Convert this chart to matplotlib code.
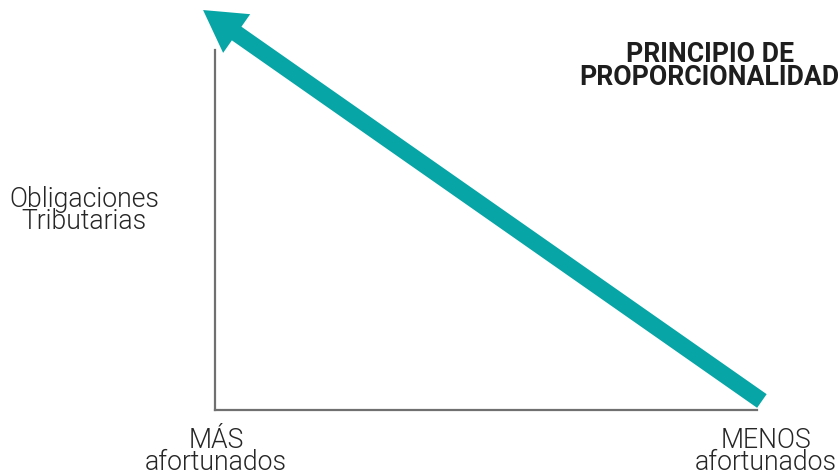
import matplotlib
matplotlib.use("Agg")
import matplotlib.pyplot as plt

# Conceptual data (axes units: 0..1)
axis_x_label_left = ["MÁS", "afortunados"]
axis_x_label_right = ["MENOS", "afortunados"]
axis_y_label = ["Obligaciones", "Tributarias"]
title = ["PRINCIPIO DE", "PROPORCIONALIDAD"]
arrow_start = [1.009, 0.025]   # menos afortunados, low obligations
arrow_end = [-0.022, 1.111]    # más afortunados, high obligations

teal = "#07a5a6"
gray = "#707070"
txt = "#262626"

plt.rcParams['font.family'] = ['Roboto', 'DejaVu Sans']

fig = plt.figure(figsize=(8.39, 4.75), dpi=100)
W, H = 839, 475
ax = fig.add_axes([215 / W, (475 - 410) / H, (757 - 215) / W, (410 - 50) / H])
ax.set_xlim(0, 1)
ax.set_ylim(0, 1)
for s in ["top", "right"]:
    ax.spines[s].set_visible(False)
for s in ["left", "bottom"]:
    ax.spines[s].set_color(gray)
    ax.spines[s].set_linewidth(1.6)
ax.set_xticks([])
ax.set_yticks([])
ax.patch.set_alpha(0)

ax.annotate("", xy=arrow_end, xytext=arrow_start, xycoords="data",
            arrowprops=dict(arrowstyle="simple,head_length=29.5,head_width=34,tail_width=12",
                            mutation_scale=1, color=teal, lw=0, shrinkA=0, shrinkB=0),
            annotation_clip=False)


def two_lines(lines, xc, baselines, size, weight, color):
    for line, yb in zip(lines, baselines):
        fig.text(xc / W, 1 - yb / H, line, ha="center", va="baseline",
                 fontsize=size, fontweight=weight, color=color)


two_lines(title, 709.5, [62, 85], 19.2, "bold", "#1e1e1e")
two_lines(axis_y_label, 84, [207, 229], 19.2, 300, txt)
two_lines(axis_x_label_left, 216, [448, 470], 19.2, 300, txt)
two_lines(axis_x_label_right, 766, [448, 470], 19.2, 300, txt)

fig.savefig("out.png", dpi=100)
